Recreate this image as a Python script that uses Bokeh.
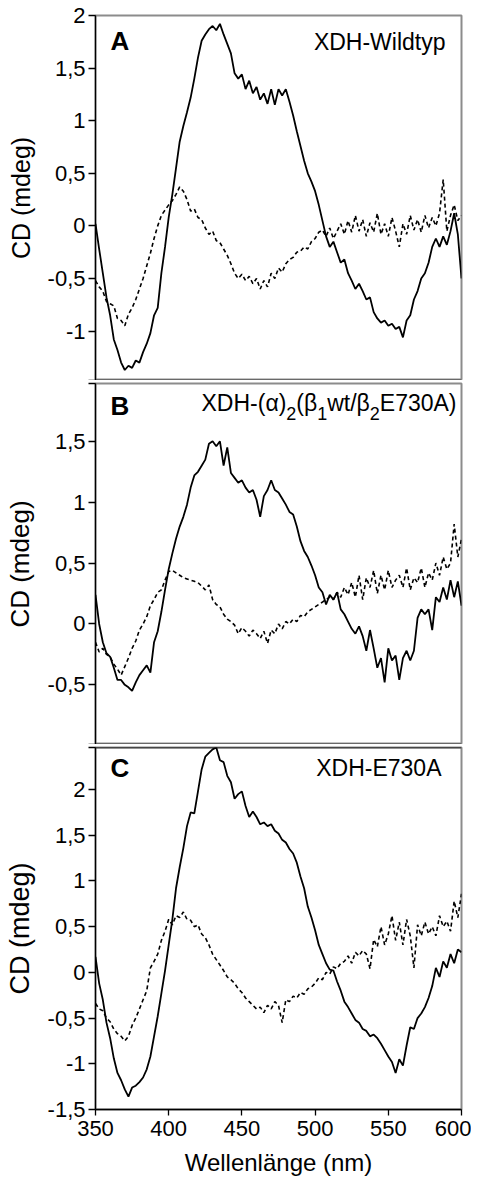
from bokeh.plotting import figure
from bokeh.layouts import column
from bokeh.models import FixedTicker, Label, Span, Range1d, CustomJSTickFormatter
from bokeh.embed import file_html
from bokeh.resources import INLINE

# ---------------- data ----------------
wavelength = [
    350, 352.5, 355, 357.5, 360, 362.5, 365, 367.5, 370, 372.5,
    375, 377.5, 380, 382.5, 385, 387.5, 390, 392.5, 395, 397.5,
    400, 402.5, 405, 407.5, 410, 412.5, 415, 417.5, 420, 422.5,
    425, 427.5, 430, 432.5, 435, 437.5, 440, 442.5, 445, 447.5,
    450, 452.5, 455, 457.5, 460, 462.5, 465, 467.5, 470, 472.5,
    475, 477.5, 480, 482.5, 485, 487.5, 490, 492.5, 495, 497.5,
    500, 502.5, 505, 507.5, 510, 512.5, 515, 517.5, 520, 522.5,
    525, 527.5, 530, 532.5, 535, 537.5, 540, 542.5, 545, 547.5,
    550, 552.5, 555, 557.5, 560, 562.5, 565, 567.5, 570, 572.5,
    575, 577.5, 580, 582.5, 585, 587.5, 590, 592.5, 595, 597.5,
    600]

wt_solid = [
    0.02, -0.22, -0.45, -0.68, -0.85, -1.08, -1.18, -1.30, -1.37, -1.33,
    -1.35, -1.28, -1.30, -1.20, -1.12, -1.02, -0.85, -0.78, -0.45, -0.20,
    0.08, 0.30, 0.55, 0.80, 0.95, 1.08, 1.22, 1.40, 1.60, 1.76,
    1.82, 1.87, 1.90, 1.86, 1.92, 1.82, 1.73, 1.64, 1.45, 1.40,
    1.44, 1.30, 1.38, 1.26, 1.32, 1.20, 1.26, 1.16, 1.30, 1.15,
    1.30, 1.24, 1.30, 1.18, 1.05, 0.90, 0.76, 0.62, 0.50, 0.42,
    0.33, 0.20, 0.05, -0.10, -0.20, -0.15, -0.25, -0.35, -0.32, -0.45,
    -0.52, -0.60, -0.55, -0.62, -0.70, -0.68, -0.82, -0.88, -0.92, -0.90,
    -0.95, -0.93, -0.98, -0.96, -1.06, -0.90, -0.85, -0.70, -0.62, -0.50,
    -0.45, -0.35, -0.20, -0.12, -0.20, -0.10, -0.18, -0.05, 0.12, -0.08,
    -0.50]
wt_dashed = [
    -0.52, -0.58, -0.62, -0.72, -0.74, -0.76, -0.88, -0.90, -0.95, -0.84,
    -0.78, -0.70, -0.60, -0.50, -0.38, -0.26, -0.12, 0.00, 0.10, 0.15,
    0.20, 0.24, 0.30, 0.37, 0.33, 0.25, 0.14, 0.16, 0.08, 0.06,
    -0.02, -0.08, -0.05, -0.14, -0.16, -0.22, -0.28, -0.36, -0.45, -0.50,
    -0.46, -0.52, -0.48, -0.55, -0.50, -0.60, -0.52, -0.58, -0.45, -0.50,
    -0.40, -0.44, -0.36, -0.32, -0.30, -0.25, -0.24, -0.20, -0.22, -0.15,
    -0.12, -0.06, -0.04, -0.10, -0.02, -0.12, -0.05, 0.02, -0.08, 0.05,
    -0.06, 0.10, -0.05, 0.06, -0.10, 0.03, -0.06, 0.12, -0.08, 0.02,
    -0.10, 0.08, -0.05, -0.20, 0.02, -0.08, 0.10, -0.04, 0.06, -0.06,
    0.10, -0.02, 0.08, 0.00, 0.12, 0.44, -0.05, 0.10, 0.20, 0.05,
    0.10]

mix_solid = [
    0.24, 0.00, -0.15, -0.24, -0.27, -0.36, -0.46, -0.46, -0.50, -0.52,
    -0.55, -0.48, -0.42, -0.38, -0.34, -0.40, -0.15, -0.06, 0.10, 0.28,
    0.45, 0.58, 0.70, 0.80, 0.88, 0.98, 1.12, 1.22, 1.25, 1.30,
    1.35, 1.48, 1.50, 1.46, 1.50, 1.30, 1.45, 1.24, 1.20, 1.16,
    1.18, 1.12, 1.08, 1.10, 1.02, 0.88, 1.05, 1.10, 1.18, 1.10,
    1.08, 1.03, 0.98, 0.92, 0.90, 0.80, 0.68, 0.60, 0.55, 0.48,
    0.40, 0.30, 0.26, 0.16, 0.24, 0.20, 0.26, 0.12, 0.08, 0.02,
    -0.04, -0.08, -0.02, -0.10, -0.22, -0.05, -0.20, -0.36, -0.28, -0.48,
    -0.20, -0.30, -0.26, -0.46, -0.28, -0.22, -0.30, -0.22, 0.05, 0.12,
    0.08, 0.12, -0.05, 0.22, 0.18, 0.30, 0.20, 0.36, 0.22, 0.35,
    0.15]
mix_dashed = [
    -0.15, -0.23, -0.20, -0.25, -0.27, -0.33, -0.37, -0.42, -0.35, -0.28,
    -0.20, -0.14, -0.05, 0.00, 0.06, 0.15, 0.20, 0.26, 0.28, 0.36,
    0.43, 0.44, 0.42, 0.40, 0.38, 0.37, 0.36, 0.35, 0.34, 0.31,
    0.28, 0.32, 0.20, 0.16, 0.14, 0.08, 0.04, 0.02, -0.01, -0.08,
    -0.03, -0.06, -0.10, -0.05, -0.08, -0.12, -0.06, -0.16, -0.05, -0.08,
    0.00, -0.04, 0.02, 0.00, 0.04, 0.02, 0.07, 0.06, 0.10, 0.12,
    0.14, 0.16, 0.18, 0.20, 0.22, 0.20, 0.26, 0.22, 0.30, 0.24,
    0.34, 0.22, 0.40, 0.20, 0.38, 0.30, 0.44, 0.25, 0.40, 0.28,
    0.44, 0.30, 0.36, 0.40, 0.30, 0.46, 0.28, 0.38, 0.34, 0.46,
    0.30, 0.42, 0.36, 0.50, 0.40, 0.55, 0.45, 0.50, 0.82, 0.55,
    0.70]

e730a_solid = [
    0.17, -0.12, -0.30, -0.55, -0.72, -0.94, -1.10, -1.18, -1.28, -1.36,
    -1.26, -1.24, -1.20, -1.15, -1.06, -0.92, -0.70, -0.48, -0.23, 0.02,
    0.30, 0.58, 0.92, 1.15, 1.36, 1.60, 1.75, 1.74, 1.98, 2.22,
    2.36, 2.40, 2.44, 2.46, 2.32, 2.30, 2.15, 2.08, 1.90, 1.95,
    1.98, 1.82, 1.70, 1.76, 1.70, 1.62, 1.64, 1.60, 1.62, 1.55,
    1.52, 1.45, 1.42, 1.35, 1.30, 1.20, 1.05, 0.92, 0.72, 0.60,
    0.46, 0.30, 0.20, 0.10, 0.03, 0.02, -0.10, -0.20, -0.32, -0.38,
    -0.45, -0.52, -0.55, -0.62, -0.64, -0.70, -0.68, -0.72, -0.78, -0.85,
    -0.92, -0.98, -1.10, -0.95, -1.02, -0.80, -0.60, -0.62, -0.50, -0.45,
    -0.38, -0.28, -0.15, 0.05, -0.05, 0.12, 0.05, 0.20, 0.10, 0.25,
    0.22]
e730a_dashed = [
    -0.34, -0.40, -0.42, -0.50, -0.54, -0.62, -0.67, -0.70, -0.75, -0.70,
    -0.58, -0.50, -0.40, -0.30, -0.20, 0.05, 0.12, 0.20, 0.35, 0.45,
    0.58, 0.52, 0.62, 0.60, 0.66, 0.58, 0.57, 0.50, 0.52, 0.42,
    0.38, 0.30, 0.20, 0.14, 0.08, 0.02, -0.05, -0.08, -0.12, -0.18,
    -0.22, -0.28, -0.32, -0.36, -0.40, -0.38, -0.44, -0.36, -0.40, -0.32,
    -0.36, -0.55, -0.30, -0.32, -0.26, -0.28, -0.22, -0.24, -0.18, -0.16,
    -0.12, -0.06, -0.08, 0.00, -0.02, 0.06, 0.04, 0.10, 0.12, 0.18,
    0.10, 0.22, 0.18, 0.24, 0.20, 0.04, 0.36, 0.28, 0.50, 0.30,
    0.42, 0.62, 0.35, 0.55, 0.30, 0.58, 0.40, 0.05, 0.52, 0.40,
    0.55, 0.42, 0.50, 0.40, 0.62, 0.50, 0.56, 0.45, 0.78, 0.60,
    0.86]

x_ticks = [350, 400, 450, 500, 550, 600]
ticks_a = [-1, -0.5, 0, 0.5, 1, 1.5, 2]
ticks_b = [-0.5, 0, 0.5, 1, 1.5]
ticks_c = [-1.5, -1, -0.5, 0, 0.5, 1, 1.5, 2]

panel_letters = ["A", "B", "C"]
panel_names = ["XDH-Wildtyp", None, "XDH-E730A"]
y_label = "CD (mdeg)"
x_label = "Wellenlänge (nm)"

# ---------------- layout ----------------
FONT = "Liberation Sans"
LEFT, FRAME_W, RIGHT = 95, 366, 10
WIDTH = LEFT + FRAME_W + RIGHT
PAGE_X0 = LEFT
X0, X1 = 350, 600

# fig_top(page), border_top, frame_h, border_bottom, ymin, ymax
SPEC_A = dict(top=0, bt=15, fh=365, bb=0, ymin=-1.47, ymax=2.0)
SPEC_B = dict(top=380, bt=3, fh=361, bb=0, ymin=-0.99, ymax=1.975)
SPEC_C = dict(top=744, bt=3, fh=362, bb=70, ymin=-1.5, ymax=2.46)


def xdata(px):
    return X0 + (px - PAGE_X0) * (X1 - X0) / FRAME_W


def ydata(s, py):
    ftop = s["top"] + s["bt"]
    return s["ymax"] - (py - ftop) * (s["ymax"] - s["ymin"]) / s["fh"]


def add_text(p, s, text, px, py, size, align="left", bold=False):
    p.add_layout(Label(x=xdata(px), y=ydata(s, py), text=text,
                       text_font=FONT, text_font_size=f"{size}px",
                       text_font_style="bold" if bold else "normal",
                       text_align=align, text_baseline="middle",
                       text_color="black"))


def make_panel(s, solid, dashed, ticks, blanks, show_x, ylab_size):
    p = figure(width=WIDTH, height=s["bt"] + s["fh"] + s["bb"],
               x_range=Range1d(X0, X1), y_range=Range1d(s["ymin"], s["ymax"]),
               output_backend="svg", toolbar_location=None,
               min_border_left=LEFT, min_border_right=RIGHT,
               min_border_top=s["bt"], min_border_bottom=s["bb"],
               x_axis_location="below" if show_x else None)
    p.grid.grid_line_color = None
    p.outline_line_color = "#8c8c8c"
    p.outline_line_width = 2
    p.background_fill_color = "white"
    p.border_fill_color = "white"

    p.line(wavelength, dashed, line_color="black", line_width=1.6, line_dash="4 3")
    p.line(wavelength, solid, line_color="black", line_width=1.8)

    ya = p.yaxis[0]
    ya.ticker = FixedTicker(ticks=ticks + blanks)
    ya.formatter = CustomJSTickFormatter(args=dict(blanks=blanks), code="""
        for (const b of blanks) { if (Math.abs(tick - b) < 1e-6) return ""; }
        return tick.toString().replace(".", ",");
    """)
    ya.major_tick_out = 7
    ya.major_tick_in = 0
    ya.minor_tick_line_color = None
    ya.axis_line_color = "black"
    ya.axis_line_width = 1.3
    ya.major_tick_line_color = "black"
    ya.major_tick_line_width = 1.3
    ya.major_label_text_font = FONT
    ya.major_label_text_font_size = "22px"
    ya.major_label_text_color = "black"
    ya.major_label_standoff = 3
    ya.axis_label = y_label
    ya.axis_label_text_font = FONT
    ya.axis_label_text_font_size = f"{ylab_size}px"
    ya.axis_label_text_font_style = "normal"
    ya.axis_label_text_color = "black"
    ya.axis_label_standoff = 10

    if show_x:
        xa = p.xaxis[0]
        xa.ticker = FixedTicker(ticks=x_ticks)
        xa.major_tick_out = 6
        xa.major_tick_in = 0
        xa.minor_tick_line_color = None
        xa.axis_line_color = "black"
        xa.axis_line_width = 1.3
        xa.major_tick_line_color = "black"
        xa.major_tick_line_width = 1.3
        xa.major_label_text_font = FONT
        xa.major_label_text_font_size = "22px"
        xa.major_label_text_color = "black"
        xa.major_label_standoff = 5
        xa.axis_label = x_label
        xa.axis_label_text_font = FONT
        xa.axis_label_text_font_size = "24px"
        xa.axis_label_text_font_style = "normal"
        xa.axis_label_text_color = "black"
        xa.axis_label_standoff = 10
    return p


pA = make_panel(SPEC_A, wt_solid, wt_dashed, ticks_a, [SPEC_A["ymin"]], False, 25)
pB = make_panel(SPEC_B, mix_solid, mix_dashed, ticks_b, [SPEC_B["ymin"], SPEC_B["ymax"]], False, 26)
pC = make_panel(SPEC_C, e730a_solid, e730a_dashed, ticks_c, [SPEC_C["ymax"]], True, 27)

# separators (double lines)
pA.add_layout(Span(location=SPEC_A["ymin"], dimension="width", line_color="black", line_width=1.3))
pB.add_layout(Span(location=SPEC_B["ymin"], dimension="width", line_color="black", line_width=1.3))
pC.add_layout(Span(location=SPEC_C["ymax"], dimension="width", line_color="black", line_width=1.3))

# panel letters and names
add_text(pA, SPEC_A, panel_letters[0], 110, 40, 26, bold=True)
add_text(pA, SPEC_A, panel_names[0], 445, 41, 23, align="right")
add_text(pB, SPEC_B, panel_letters[1], 110, 405, 26, bold=True)
add_text(pC, SPEC_C, panel_letters[2], 110, 767, 26, bold=True)
add_text(pC, SPEC_C, panel_names[2], 441, 767, 23, align="right")

# panel B name with subscripts, chained from the right edge
MAIN, SUB = 23, 18
pieces = [("XDH-(\u03b1)", MAIN, 3.689), ("2", SUB, 0.556), ("(\u03b2", MAIN, 0.906),
          ("1", SUB, 0.556), ("wt/\u03b2", MAIN, 1.851), ("2", SUB, 0.556),
          ("E730A)", MAIN, 3.335)]
right = 456.0
positions = []
for text, size, em in reversed(pieces):
    right -= em * size
    positions.append((text, size, right))
for text, size, left in positions:
    add_text(pB, SPEC_B, text, left, 402.5 if size == MAIN else 412.5, size)

layout = column(pA, pB, pC)
open("out.html", "w").write(file_html(layout, INLINE))
